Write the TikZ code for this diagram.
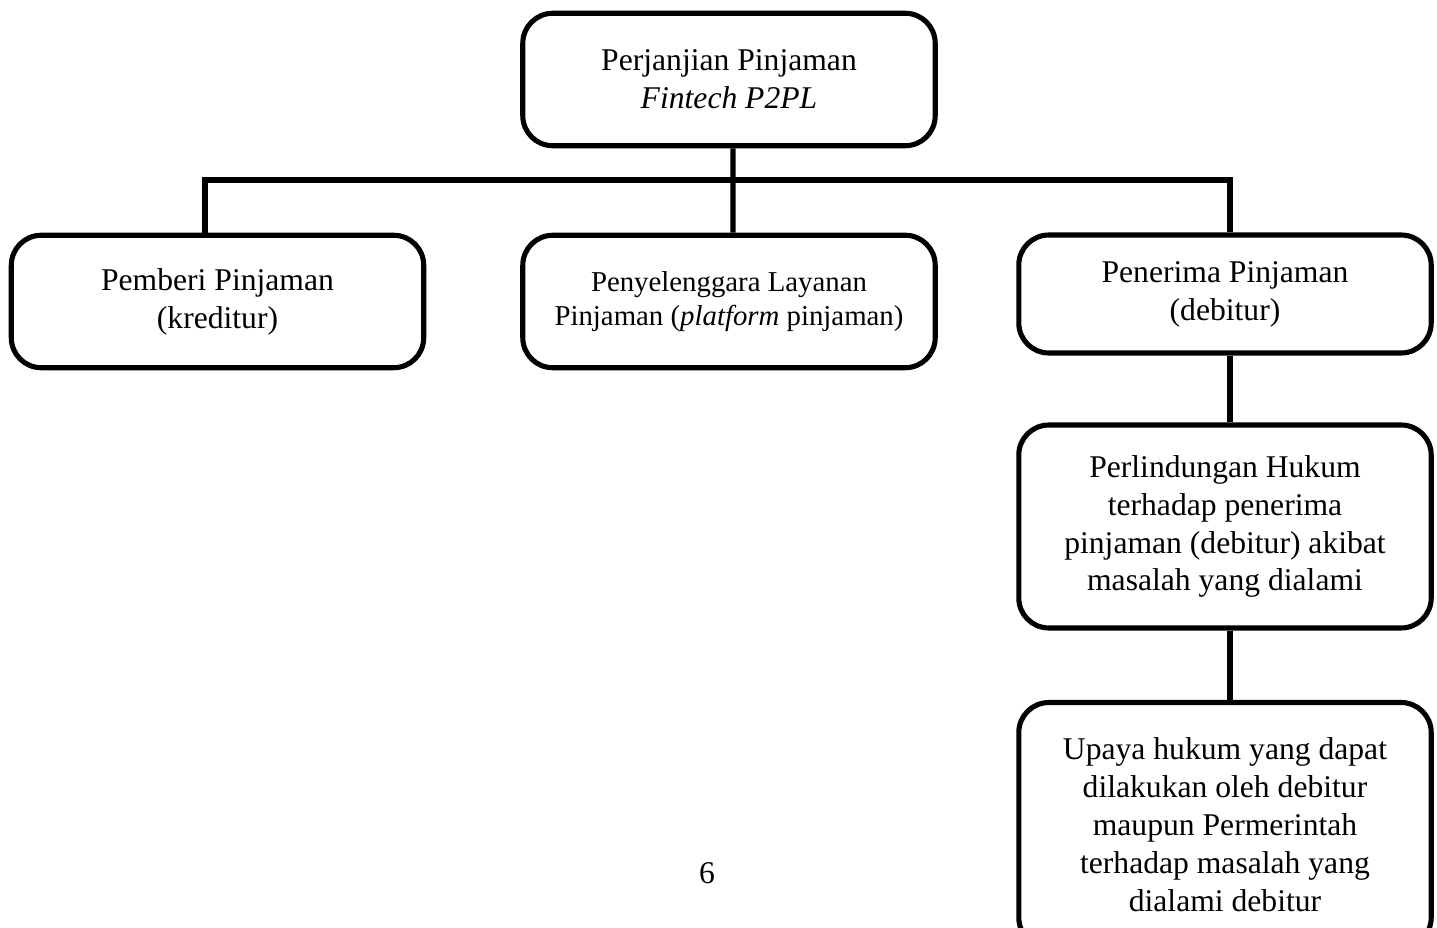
\documentclass[tikz,border=0pt]{standalone}
\usepackage{fontspec}
\setmainfont{Liberation Serif}
\begin{document}
\begin{tikzpicture}[x=0.02cm, y=-0.02cm,
				    box/.style={draw, line width=2.9pt, rounded corners=0.6cm, fill=none,
				    			  text centered, align=center, text=black, inner sep=0pt,
				    			  minimum width=8.25cm,
				    			  font=\fontsize{18}{21.6}\selectfont},
				    link/.style={draw, line width=2.9pt}]
	\useasboundingbox (0,0) rectangle (1437,928);
	\node[box, minimum height=2.65cm] (u1) at (729, 79.5) {Perjanjian Pinjaman\\ \textit{Fintech P2PL}};
	\node[box, minimum height=2.65cm] (u2) at (217.5, 301.5) {Pemberi Pinjaman\\ (kreditur)};
	\node[box, minimum height=2.65cm, font=\fontsize{16.4}{19.8}\selectfont] (u3) at (729, 301.5) {Penyelenggara Layanan\\ Pinjaman (\textit{platform} pinjaman)};
	\node[box, minimum height=2.36cm] (u4) at (1225, 294) {Penerima Pinjaman\\ (debitur)};
	\node[box, minimum height=4.06cm] (u5) at (1225, 526.5) {Perlindungan Hukum\\ terhadap penerima\\ pinjaman (debitur) akibat\\ masalah yang dialami};
	\node[box, minimum height=4.9cm] (u6) at (1225, 825) {Upaya hukum yang dapat\\ dilakukan oleh debitur\\ maupun Permerintah\\ terhadap masalah yang\\ dialami debitur};
	\node[font=\fontsize{18}{21.6}\selectfont] (page) at (707, 873) {6};
	
	\coordinate (bar) at (733, 180);
	\path[link] 	([xshift=0.08cm]u1.south)  edge   (bar);
	\draw[link] 	([xshift=-0.25cm]u2.north) |- (bar) -| ([xshift=0.1cm]u4.north);
	\path[link] 	(bar)  edge   ([xshift=0.08cm]u3.north);
	\path[link] 	([xshift=0.1cm]u4.south)  edge   ([xshift=0.1cm]u5.north);
	\path[link] 	([xshift=0.1cm]u5.south)  edge   ([xshift=0.1cm]u6.north);
	
\end{tikzpicture}
\end{document}
